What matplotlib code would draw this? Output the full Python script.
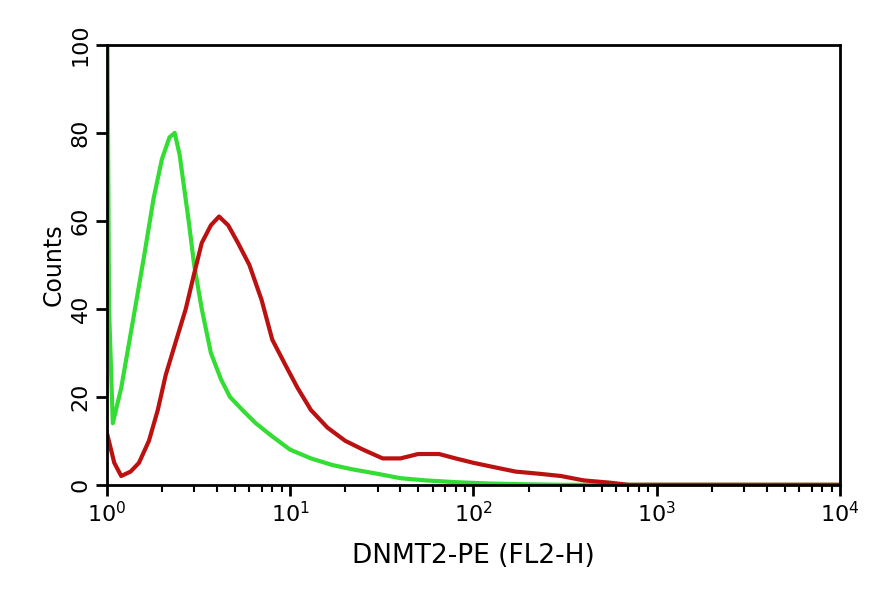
import matplotlib
matplotlib.use("Agg")
import matplotlib.pyplot as plt
from matplotlib.ticker import LogLocator, NullFormatter

green_x = [1.0, 1.01, 1.03, 1.08, 1.2, 1.4, 1.6, 1.8, 2.0, 2.2, 2.35, 2.5, 2.8, 3.0, 3.3, 3.7, 4.2, 4.7, 5.5, 6.5, 8, 10, 13, 17, 22, 30, 40, 55, 80, 120, 200, 300, 10000]
green_y = [100, 100, 40, 14, 22, 38, 52, 65, 74, 79, 80, 75, 60, 50, 40, 30, 24, 20, 17, 14, 11, 8, 6, 4.5, 3.5, 2.5, 1.5, 1, 0.6, 0.3, 0.1, 0, 0]
red_x = [1.0, 1.1, 1.2, 1.35, 1.5, 1.7, 1.9, 2.1, 2.4, 2.7, 3.0, 3.3, 3.7, 4.1, 4.6, 5.2, 6.0, 7.0, 8.0, 9.5, 11, 13, 16, 20, 25, 32, 40, 50, 65, 80, 100, 130, 170, 230, 300, 400, 550, 700, 10000]
red_y = [12, 5, 2, 3, 5, 10, 17, 25, 33, 40, 48, 55, 59, 61, 59, 55, 50, 42, 33, 27, 22, 17, 13, 10, 8, 6, 6, 7, 7, 6, 5, 4, 3, 2.5, 2, 1, 0.5, 0, 0]

fig = plt.figure(figsize=(8.89, 6.0), dpi=100)
ax = fig.add_axes([0.120, 0.192, 0.825, 0.733])
ax.plot(green_x, green_y, color="#33dd33", lw=3)
ax.plot(red_x, red_y, color="#bb1111", lw=3)
ax.set_xscale("log")
ax.set_xlim(1, 1e4)
ax.set_ylim(0, 100)
ax.set_yticks([0, 20, 40, 60, 80, 100])
ax.xaxis.set_minor_locator(LogLocator(base=10, subs=range(2, 10)))
ax.xaxis.set_minor_formatter(NullFormatter())
ax.tick_params(labelsize=16, width=2, length=8, direction="out")
ax.tick_params(which="minor", length=5, width=1.5)
for lab in ax.get_yticklabels():
    lab.set_rotation(90)
    lab.set_va("center")
for s in ax.spines.values():
    s.set_linewidth(2)
ax.set_ylabel("Counts", fontsize=17)
ax.set_xlabel("DNMT2-PE (FL2-H)", fontsize=19, labelpad=12)
fig.savefig("out.png", dpi=100)
